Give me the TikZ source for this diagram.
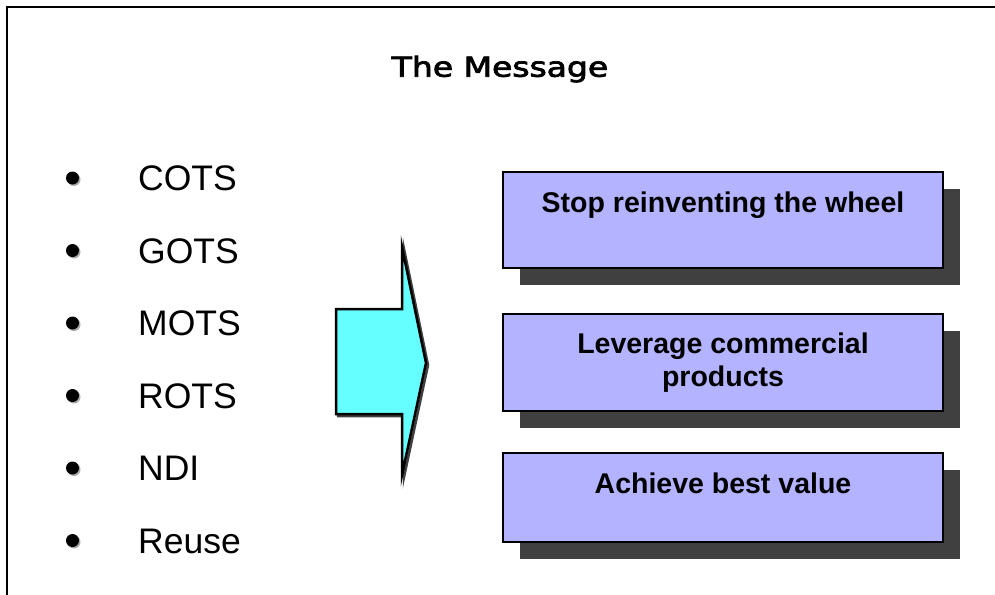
\documentclass[tikz,border=0pt]{standalone}
\usepackage{graphicx}
\usepackage{fontspec}
\setmainfont{Liberation Sans}
\newfontfamily\titlefont{DejaVu Sans}
\usetikzlibrary{shadows}
\definecolor{boxfill}{RGB}{179,179,255}
\definecolor{boxshade}{RGB}{64,64,64}
\definecolor{arrowfill}{RGB}{102,255,255}
\definecolor{dotshade}{RGB}{170,170,170}
% slightly heavier glyphs: fill and stroke the outlines
\newcommand\heavytext[1]{\special{pdf:literal 2 Tr 0.7 w}#1\special{pdf:literal 0 Tr}}

\begin{document}
\begin{tikzpicture}[x=1pt,y=-1pt,
  item/.style={anchor=base west, inner sep=0pt, font=\fontsize{35.5}{40}\selectfont},
  dot/.style={circle, fill=black, minimum size=13pt, inner sep=0pt,
    drop shadow={shadow xshift=1.5pt, shadow yshift=-1.5pt, fill=dotshade, opacity=1}},
  msgbox/.style={draw=black, line width=2pt, fill=boxfill, minimum width=440pt, inner sep=0pt,
    drop shadow={shadow xshift=17pt, shadow yshift=-17pt, fill=boxshade, opacity=1}},
  msgtext/.style={anchor=base, inner sep=0pt, align=center,
    font=\fontsize{28.5}{33}\selectfont\bfseries}
]
\useasboundingbox (0,0) rectangle (995,594);

% page frame (right and bottom sides run off the page)
\begin{scope}
  \clip (0,0) rectangle (995,594);
  \draw[line width=2.5pt] (7,620) -- (7,7) -- (1020,7);
\end{scope}

% title
\node[anchor=base, inner sep=0pt, font=\titlefont\fontsize{27.5}{32}\selectfont] (title)
  at (500,76.7) {\scalebox{1.2}[1]{\heavytext{The Message}}};

% bullet list
\foreach \t [count=\i from 0] in {COTS,GOTS,MOTS,ROTS,NDI,Reuse} {
  \node[dot] (d\i) at (72.5,{178+72.5*\i}) {};
  \node[item] (it\i) at (138,{190.5+72.5*\i}) {\t};
}

% block arrow with its shadow
\draw[line width=2.5pt, black!75, shift={(2,2)}]
  (336,309) -- (402,309) -- (402,247) -- (426,363) -- (402,475) -- (402,414) -- (336,414) -- cycle;
\draw[line width=2.5pt, fill=arrowfill]
  (336,309) -- (402,309) -- (402,247) -- (426,363) -- (402,475) -- (402,414) -- (336,414) -- cycle;

% message boxes
\node[msgbox, minimum height=96pt] (b1) at (723,220) {};
\node[msgbox, minimum height=97pt] (b2) at (723,362.5) {};
\node[msgbox, minimum height=89pt] (b3) at (723,497.5) {};

\node[msgtext] (t1) at (723,212.3) {Stop reinventing the wheel};
\node[msgtext] (t2) at (723,386) {Leverage commercial\\products};
\node[msgtext] (t3) at (723,493) {Achieve best value};
\end{tikzpicture}
\end{document}
